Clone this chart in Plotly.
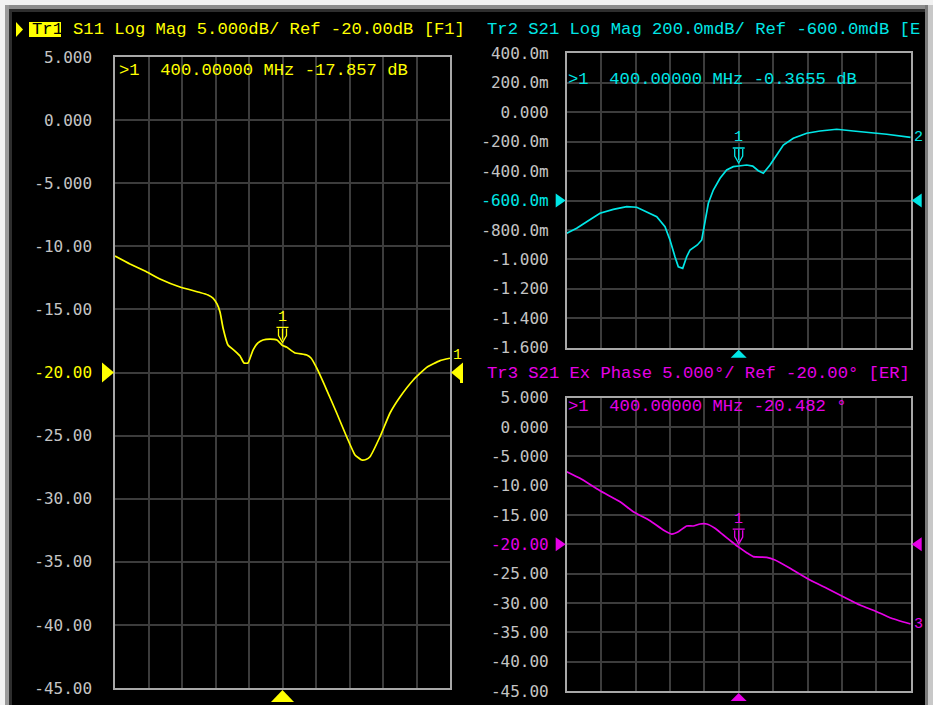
import plotly.graph_objects as go

W, H = 933, 705

# ---------------- measurement data ----------------
freq_s11 = [200.0, 217.9, 235.8, 253.7, 277.6, 301.5, 311.0, 317.0, 321.8, 325.4,
            329.0, 334.9, 343.3, 349.3, 354.0, 358.8, 364.8, 370.7, 376.7, 385.1,
            393.4, 400.0, 404.8, 414.3, 428.9, 434.0, 440.8, 452.8, 464.7, 476.7,
            486.6, 494.6, 499.7, 504.5, 516.4, 528.4, 540.3, 556.2, 572.2, 588.1, 600.0]
s11_db = [-10.77, -11.40, -11.96, -12.59, -13.23, -13.66, -13.86, -14.10, -14.57, -15.21,
          -16.47, -17.82, -18.30, -18.69, -19.25, -19.25, -18.22, -17.66, -17.42, -17.35,
          -17.42, -17.857, -17.98, -18.43, -18.61, -18.85, -19.64, -21.39, -23.21, -25.11,
          -26.54, -26.93, -26.89, -26.67, -25.09, -23.21, -21.94, -20.59, -19.59, -19.06, -18.87]

freq_s21 = [200.0, 211.6, 223.3, 238.7, 254.2, 269.8, 281.4, 293.0, 304.7, 314.3,
            320.1, 325.9, 329.8, 334.9, 339.5, 343.4, 351.9, 357.0, 360.8, 364.7,
            370.5, 378.3, 386.0, 393.7, 400.0, 409.3, 416.3, 422.8, 428.6, 436.4,
            444.2, 451.9, 463.5, 479.1, 494.5, 514.0, 533.3, 552.7, 572.1, 600.0]
s21_db = [-0.823, -0.789, -0.744, -0.687, -0.660, -0.642, -0.646, -0.676, -0.710, -0.778,
          -0.868, -0.982, -1.050, -1.061, -0.982, -0.936, -0.902, -0.868, -0.755, -0.619,
          -0.529, -0.449, -0.393, -0.370, -0.3655, -0.359, -0.366, -0.398, -0.415, -0.359,
          -0.291, -0.223, -0.177, -0.143, -0.128, -0.116, -0.128, -0.139, -0.150, -0.171]

freq_phase = [200.0, 215.5, 238.7, 262.0, 277.4, 296.9, 312.3, 322.1, 329.8, 339.5,
              347.2, 355.0, 362.8, 372.4, 382.1, 391.9, 400.0, 409.3, 417.0, 432.6,
              442.2, 459.7, 482.9, 502.3, 521.6, 541.0, 560.5, 575.9, 600.0]
s21_phase = [-7.61, -8.74, -10.85, -12.73, -14.43, -15.97, -17.55, -18.24, -17.84, -16.87,
             -16.87, -16.53, -16.53, -17.26, -18.41, -19.55, -20.482, -21.42, -22.10, -22.21,
             -22.67, -24.08, -26.08, -27.49, -28.92, -30.34, -31.48, -32.50, -33.58]

MARKER_FREQ = 400.0
s11_marker = -17.857
s21_marker = -0.3655
phase_marker = -20.482

s11_ref = -20.0
s21_ref = -0.6
phase_ref = -20.0

db_tickvals = [5, 0, -5, -10, -15, -20, -25, -30, -35, -40, -45]
db_ticktext = ["5.000", "0.000", "-5.000", "-10.00", "-15.00", "-20.00",
               "-25.00", "-30.00", "-35.00", "-40.00", "-45.00"]
mdb_tickvals = [0.4, 0.2, 0.0, -0.2, -0.4, -0.6, -0.8, -1.0, -1.2, -1.4, -1.6]
mdb_ticktext = ["400.0m", "200.0m", "0.000", "-200.0m", "-400.0m", "-600.0m",
                "-800.0m", "-1.000", "-1.200", "-1.400", "-1.600"]

span_lo, span_hi, span_step = 200.0, 600.0, 40.0

# ---------------- styling ----------------
YELLOW = "#ffff00"
CYAN = "#00e6e6"
MAGENTA = "#e600e6"
GRID = "#3c3c3c"
FRAME = "#a8a8a8"
TICK = "#c4c4c4"
MONO = "Liberation Mono"
TICKFONT = "DejaVu Sans Mono"


def px(x):
    return x / W


def py(y):
    return 1 - y / H


def tick_text(texts, vals, ref, color):
    out = []
    for t, v in zip(texts, vals):
        if abs(v - ref) < 1e-9:
            out.append(f"<span style='color:{color}'>{t}</span>")
        else:
            out.append(t)
    return out


fig = go.Figure()

panels = [
    # (axis suffix, freq, values, color, marker value, ref, line shape)
    ("", freq_s11, s11_db, YELLOW, s11_marker, s11_ref, "spline"),
    ("2", freq_s21, s21_db, CYAN, s21_marker, s21_ref, "linear"),
    ("3", freq_phase, s21_phase, MAGENTA, phase_marker, phase_ref, "spline"),
]

for suf, fx, fy, col, mval, ref, lshape in panels:
    fig.add_trace(go.Scatter(
        x=fx, y=fy, mode="lines", xaxis="x" + suf, yaxis="y" + suf,
        line=dict(color=col, width=1.7, shape=lshape, smoothing=0.4),
        hoverinfo="skip", showlegend=False))

xa_common = dict(range=[span_lo, span_hi], tick0=span_lo, dtick=span_step,
                 showticklabels=False, showgrid=True, gridcolor=GRID, gridwidth=1.5,
                 zeroline=False, showline=True, linecolor=FRAME, linewidth=1.5,
                 mirror=True, ticks="", automargin=False, fixedrange=True)


def ya_common(vals, texts, ref, col, rng, ticklen):
    return dict(range=rng, tickvals=vals, ticktext=tick_text(texts, vals, ref, col),
                showgrid=True, gridcolor=GRID, gridwidth=1.5, zeroline=False,
                showline=True, linecolor=FRAME, linewidth=1.5, mirror=True,
                ticks="outside", ticklen=ticklen, tickcolor="rgba(0,0,0,0)",
                tickfont=dict(family=TICKFONT, size=16, color=TICK),
                automargin=False, fixedrange=True)


layout_axes = {}
layout_axes["xaxis"] = dict(xa_common, domain=[px(115), px(450)], anchor="y")
layout_axes["yaxis"] = dict(ya_common(db_tickvals, db_ticktext, s11_ref, YELLOW, [-45, 5], 18),
                            domain=[py(688), py(57)], anchor="x")
layout_axes["xaxis2"] = dict(xa_common, domain=[px(566.7), px(910.7)], anchor="y2")
layout_axes["yaxis2"] = dict(ya_common(mdb_tickvals, mdb_ticktext, s21_ref, CYAN, [-1.6, 0.4], 13),
                             domain=[py(347.7), py(53.3)], anchor="x2")
layout_axes["xaxis3"] = dict(xa_common, domain=[px(566.7), px(910.7)], anchor="y3")
layout_axes["yaxis3"] = dict(ya_common(db_tickvals, db_ticktext, phase_ref, MAGENTA, [-45, 5], 13),
                             domain=[py(691), py(397.7)], anchor="x3")

shapes = []
annotations = []

# window frame around the analyzer screen
frame_rects = [
    (0, 0, W, 5, "#f2f2f2"),
    (0, 0, 5, H, "#f2f2f2"),
    (5, 5, W, 9, "#8c8c8c"),
    (5, 9, W, 12, "#2e2e2e"),
    (5, 5, 9, H, "#9a9a9a"),
    (9, 9, 12, H, "#2e2e2e"),
    (925, 5, 928, H, "#7a7a7a"),
    (928, 5, W, H, "#c8c8c8"),
]
for x0, y0, x1, y1, c in frame_rects:
    shapes.append(dict(type="rect", xref="paper", yref="paper", x0=px(x0), x1=px(x1),
                       y0=py(y1), y1=py(y0), fillcolor=c, line=dict(width=0), layer="above"))

# active-trace pointer and highlighted Tr1 label
shapes.append(dict(type="path", xref="paper", yref="paper",
                   path=f"M {px(16)},{py(22)} L {px(23)},{py(29.5)} L {px(16)},{py(37)} Z",
                   fillcolor=YELLOW, line=dict(width=0)))
shapes.append(dict(type="rect", xref="paper", yref="paper", x0=px(29), x1=px(61),
                   y0=py(37), y1=py(22), fillcolor=YELLOW, line=dict(width=0)))
shapes.append(dict(type="rect", xref="paper", yref="paper", x0=px(460), x1=px(463),
                   y0=py(383), y1=py(365), fillcolor=YELLOW, line=dict(width=0)))


def text_at(x, y, s, color, size=17.2, family=MONO, **kw):
    annotations.append(dict(xref="paper", yref="paper", x=px(x), y=py(y), text=s,
                            showarrow=False, xanchor="left", yanchor="middle",
                            font=dict(family=family, size=size, color=color), **kw))


text_at(29.5, 30, "Tr1", "#000000")
text_at(71, 30, "S11 Log Mag 5.000dB/ Ref -20.00dB [F1]", YELLOW)
text_at(485, 30, "Tr2 S21 Log Mag 200.0mdB/ Ref -600.0mdB [E", CYAN)
text_at(485, 373, "Tr3 S21 Ex Phase 5.000°/ Ref -20.00° [ER]", MAGENTA)

text_at(117, 70, f">1  {MARKER_FREQ:.5f} MHz {s11_marker:.3f} dB", YELLOW)
text_at(566, 80, f">1  {MARKER_FREQ:.5f} MHz {s21_marker:.4f} dB", CYAN)
text_at(566, 407, f">1  {MARKER_FREQ:.5f} MHz {phase_marker:.3f} °", MAGENTA)

# per-panel markers, reference-level pointers and trace numbers
trace_ids = ["1", "2", "3"]
tri = [(12, 10, 23, 12), (10, 7, 16, 8), (10, 7, 16, 8)]
for (suf, fx, fy, col, mval, ref, _), tid, (tw, th, bw, bh) in zip(panels, trace_ids, tri):
    xr, yr = "x" + suf, "y" + suf
    # marker pin
    shapes.append(dict(type="path", xref=xr, yref=yr, xsizemode="pixel", ysizemode="pixel",
                       xanchor=MARKER_FREQ, yanchor=mval,
                       path="M -6,18 L 6,18 M -4,17 L -4,10 L 0,3 L 4,10 L 4,17 M 0,17 L 0,6",
                       line=dict(color=col, width=1.3)))
    annotations.append(dict(xref=xr, yref=yr, x=MARKER_FREQ, y=mval, text="1", showarrow=False,
                            yshift=28, xanchor="center", yanchor="middle",
                            font=dict(family=MONO, size=15, color=col)))
    # reference level pointers left/right
    shapes.append(dict(type="path", xref=xr + " domain", yref=yr, xsizemode="pixel", ysizemode="pixel",
                       xanchor=0, yanchor=ref,
                       path=f"M {-tw - 1},{th} L -1,0 L {-tw - 1},{-th} Z",
                       fillcolor=col, line=dict(width=0)))
    shapes.append(dict(type="path", xref=xr + " domain", yref=yr, xsizemode="pixel", ysizemode="pixel",
                       xanchor=1, yanchor=ref,
                       path=f"M {tw + 1},{th} L 1,0 L {tw + 1},{-th} Z",
                       fillcolor=col, line=dict(width=0)))
    # stimulus marker pointer under the grid
    shapes.append(dict(type="path", xref=xr, yref=yr + " domain", xsizemode="pixel", ysizemode="pixel",
                       xanchor=MARKER_FREQ, yanchor=0,
                       path=f"M {-bw / 2},{-bh - 2} L 0,-2 L {bw / 2},{-bh - 2} Z",
                       fillcolor=col, line=dict(width=0)))
    # trace number at the end of the sweep
    annotations.append(dict(xref=xr, yref=yr, x=fx[-1], y=fy[-1], text=tid, showarrow=False,
                            xanchor="left", yanchor="middle", xshift=1, yshift=3 if tid == "1" else 0,
                            font=dict(family=MONO, size=15, color=col)))

fig.update_layout(
    width=W, height=H, margin=dict(l=0, r=0, t=0, b=0, pad=0),
    paper_bgcolor="#000000", plot_bgcolor="#000000",
    shapes=shapes, annotations=annotations, showlegend=False,
    **layout_axes,
)

fig.write_html("out.html", config={"displayModeBar": False})
